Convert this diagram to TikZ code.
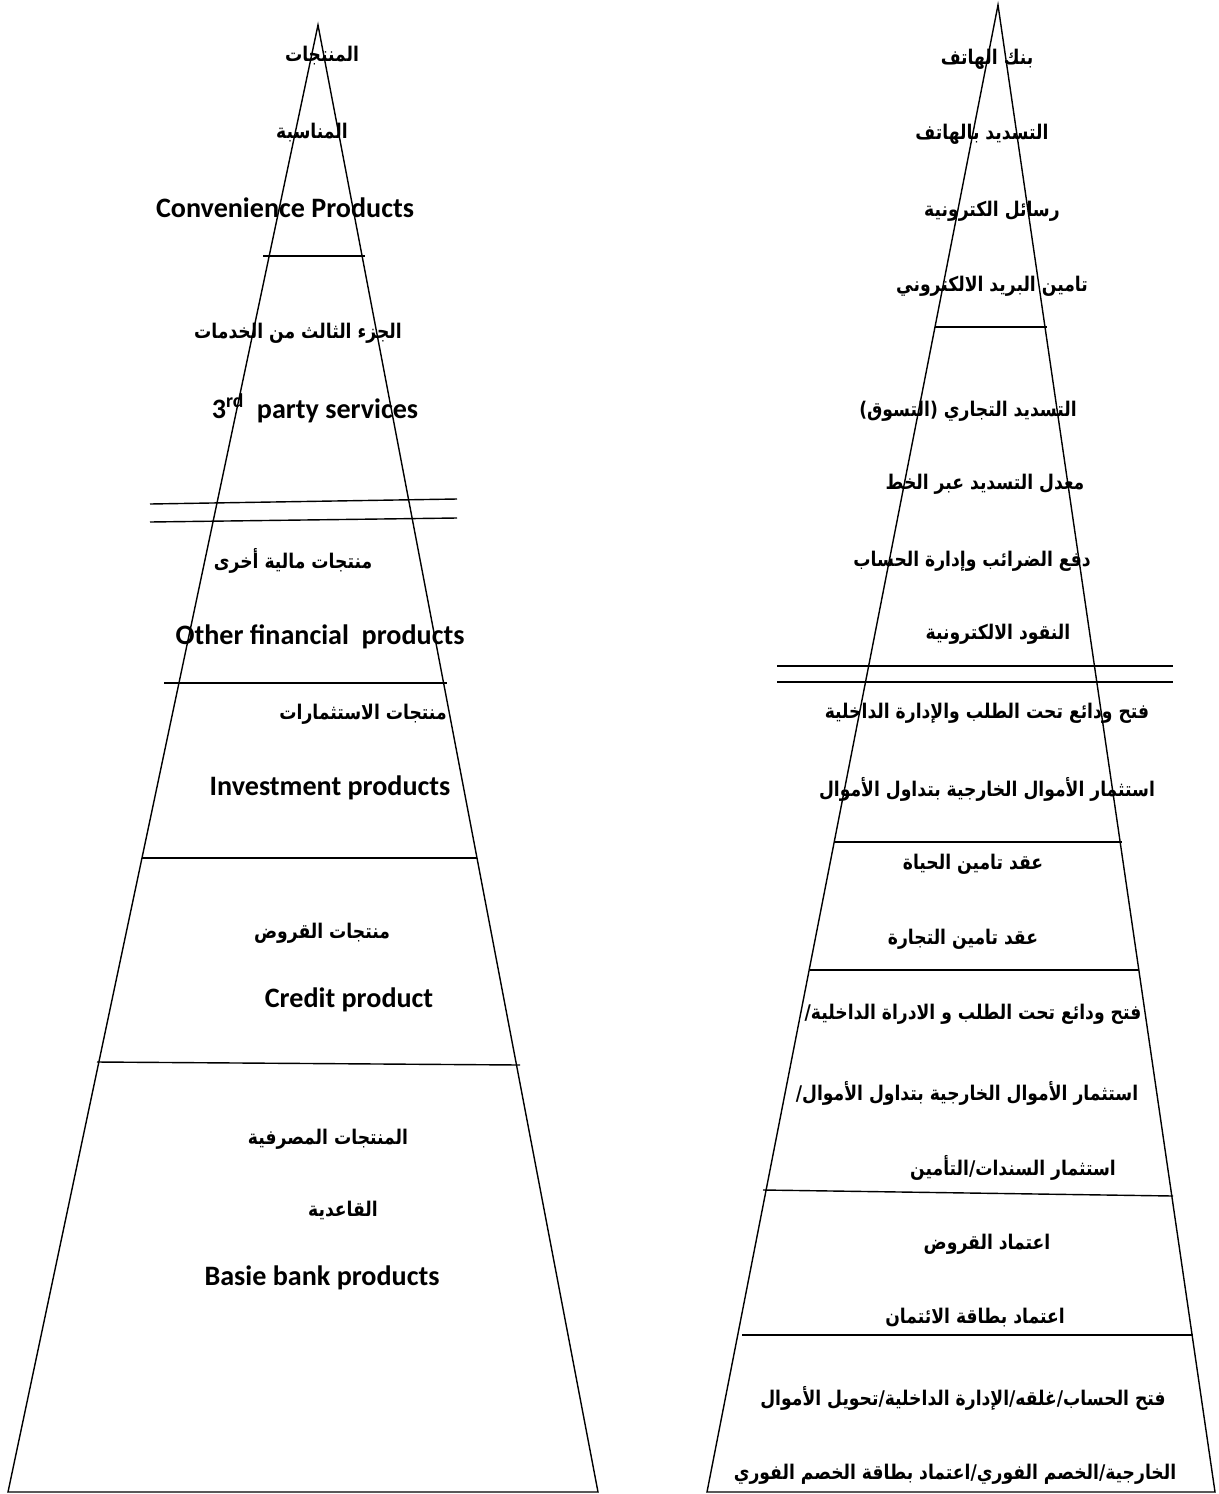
\documentclass[tikz,border=0pt]{standalone}
\usepackage{fontspec}
\setmainfont{Carlito}
\newfontfamily\arabicfont[Script=Arabic, FakeStretch=0.85]{DejaVu Sans}
\TeXXeTstate=1
\usetikzlibrary{positioning}
\newcommand{\AR}[1]{\beginR #1\endR}

\begin{document}
\begin{tikzpicture}[
    x=0.02cm, y=-0.02cm,
    edge/.style={line width=0.8pt},
    ar/.style={font=\arabicfont\bfseries\fontsize{11.5}{13}\selectfont, inner sep=0pt},
    en/.style={font=\bfseries\fontsize{16}{19}\selectfont, inner sep=0pt},
]
\useasboundingbox (0,0) rectangle (1218,1494);

% Left pyramid
\coordinate (lt) at (318,25);
\coordinate (lbl) at (8,1492);
\coordinate (lbr) at (598,1492);
\draw[edge] (lbl) -- (lt) -- (lbr) -- cycle;
\draw[edge] (263,256) -- (365,256);
\draw[edge] (150,504) -- (457,499);
\draw[edge] (150,522) -- (457,518);
\draw[edge] (164,683) -- (447,683);
\draw[edge] (142,858) -- (477,858);
\draw[edge] (97,1062) -- (520,1065);

\node[ar] (convAr1) at (322,56) {\AR{المنتجات}};
\node[ar] (convAr2) at (312,133) {\AR{المناسبة}};
\node[en] (convEn) at (285,208) {Convenience Products};
\node[ar] (thirdAr) at (298,333) {\AR{الجزء الثالث من الخدمات}};
\node[en] (thirdEn) at (315,408) {3\textsuperscript{rd}\ \ party services};
\node[ar] (otherAr) at (293,561) {\AR{منتجات مالية أخرى}};
\node[en] (otherEn) at (320,637) {Other financial\ \ products};
\node[ar] (investAr) at (363,714) {\AR{منتجات الاستثمارات}};
\node[en] (investEn) at (330,788) {Investment products};
\node[ar] (creditAr) at (322,933) {\AR{منتجات القروض}};
\node[en] (creditEn) at (349,1000) {Credit product};
\node[ar] (basicAr1) at (328,1139) {\AR{المنتجات المصرفية}};
\node[ar] (basicAr2) at (343,1210) {\AR{القاعدية}};
\node[en] (basicEn) at (322,1278) {Basie bank products};

% Right pyramid
\coordinate (rt) at (998,5);
\coordinate (rbl) at (707,1492);
\coordinate (rbr) at (1215,1492);
\draw[edge] (rbl) -- (rt) -- (rbr) -- cycle;
\draw[edge] (935,327) -- (1047,327);
\draw[edge] (777,666) -- (1173,666);
\draw[edge] (777,682) -- (1173,682);
\draw[edge] (834,842) -- (1122,842);
\draw[edge] (810,970) -- (1138,970);
\draw[edge] (763,1190) -- (1173,1196);
\draw[edge] (742,1335) -- (1193,1335);

\node[ar] (phoneBank) at (987,59) {\AR{بنك الهاتف}};
\node[ar] (phonePay) at (982,134) {\AR{التسديد بالهاتف}};
\node[ar] (eMsg) at (992,211) {\AR{رسائل الكترونية}};
\node[ar] (eMailIns) at (992,286) {\AR{تامين البريد الالكتروني}};
\node[ar] (shopPay) at (968,411) {\AR{التسديد التجاري (التسوق)}};
\node[ar] (lineRate) at (985,484) {\AR{معدل التسديد عبر الخط}};
\node[ar] (taxPay) at (972,561) {\AR{دفع الضرائب وإدارة الحساب}};
\node[ar] (eCash) at (998,634) {\AR{النقود الالكترونية}};
\node[ar] (depoA) at (987,713) {\AR{فتح ودائع تحت الطلب والإدارة الداخلية}};
\node[ar] (fundA) at (987,789) {\AR{استثمار الأموال الخارجية بتداول الأموال}};
\node[ar] (lifeIns) at (973,864) {\AR{عقد تامين الحياة}};
\node[ar] (tradeIns) at (963,939) {\AR{عقد تامين التجارة}};
\node[ar] (depoB) at (973,1014) {\AR{فتح ودائع تحت الطلب و الادراة الداخلية/}};
\node[ar] (fundB) at (967,1093) {\AR{استثمار الأموال الخارجية بتداول الأموال/}};
\node[ar] (bonds) at (1013,1168) {\AR{استثمار السندات/التأمين}};
\node[ar] (loanAcc) at (987,1244) {\AR{اعتماد القروض}};
\node[ar] (cardAcc) at (975,1318) {\AR{اعتماد بطاقة الائتمان}};
\node[ar] (acctA) at (963,1398) {\AR{فتح الحساب/غلقه/الإدارة الداخلية/تحويل الأموال}};
\node[ar] (acctB) at (955,1474) {\AR{الخارجية/الخصم الفوري/اعتماد بطاقة الخصم الفوري}};
\end{tikzpicture}
\end{document}
